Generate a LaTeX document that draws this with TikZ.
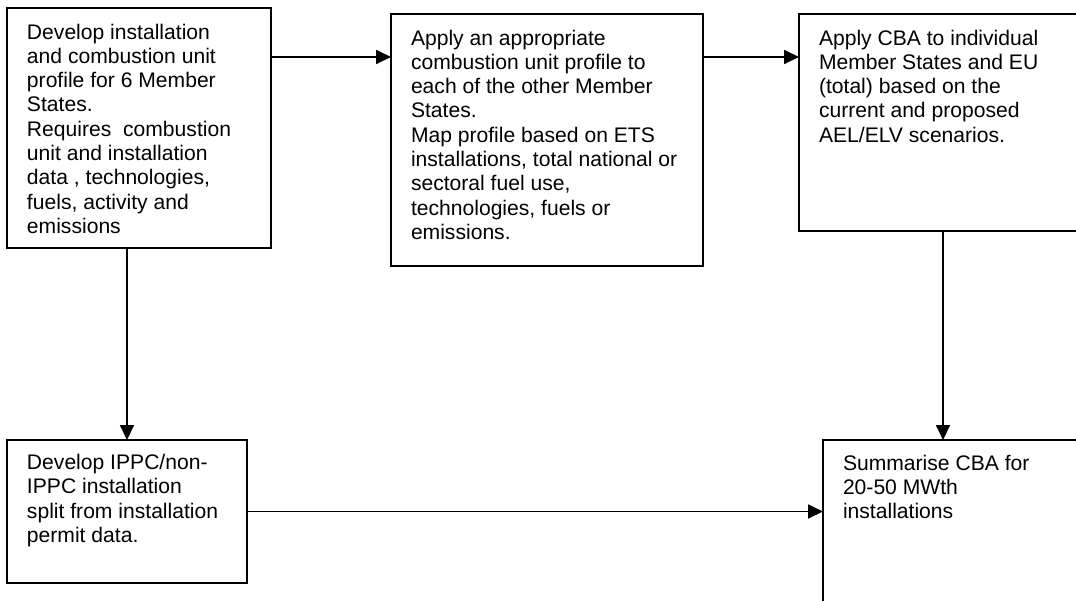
\documentclass[tikz,border=0pt]{standalone}
\usepackage{fontspec}
\setmainfont{Liberation Sans}
\usetikzlibrary{arrows.meta}
\newcommand{\bodytext}[4]{\parbox[t][#2][t]{#1}{\raggedright\rule{0pt}{#3}#4}}
\begin{document}
\begin{tikzpicture}[x=1pt,y=-1pt,
  box/.style={draw, line width=1.8pt, inner xsep=20pt, inner ysep=0pt, outer sep=0pt,
    anchor=north west, align=left, font=\fontsize{21.1}{24.3}\selectfont},
  arr/.style={line width=1.8pt, -{Triangle[length=15pt,width=14pt]}}]
\useasboundingbox (0,0) rectangle (1076,600);
\fill[white] (0,0) rectangle (1076,600);
\clip (0,0) rectangle (1076,600);

\node[box] (b1) at (7,8) {\bodytext{224pt}{240pt}{31pt}{Develop installation\\and combustion unit\\profile for 6 Member\\States.\\Requires\ \ combustion\\unit and installation\\data , technologies,\\fuels, activity and\\emissions}};

\node[box] (b2) at (391,14) {\bodytext{272pt}{252pt}{31pt}{Apply an appropriate\\combustion unit profile to\\each of the other Member\\States.\\Map profile based on ETS\\installations, total national or\\sectoral fuel use,\\technologies, fuels or\\emissions.}};

\node[box] (b3) at (799,14) {\bodytext{248pt}{217pt}{31pt}{Apply CBA to individual\\Member States and EU\\(total) based on the\\current and proposed\\AEL/ELV scenarios.}};

\node[box] (b4) at (7,440) {\bodytext{200pt}{143pt}{29.5pt}{Develop IPPC/non-\\IPPC installation\\split from installation\\permit data.}};

\node[box] (b5) at (823,440) {\bodytext{240pt}{185pt}{30pt}{Summarise CBA for\\20-50 MWth\\installations}};

\draw[arr] (b1.east |- 0,57) -- (b2.west |- 0,57);
\draw[arr] (b2.east |- 0,57) -- (b3.west |- 0,57);
\draw[arr] (b1.south -| b4.north) -- (b4.north);
\draw[arr] (b3.south) -- (b3.south |- b5.north);
\draw[arr] (b4.east) -- (b4.east -| b5.west);
\end{tikzpicture}
\end{document}
